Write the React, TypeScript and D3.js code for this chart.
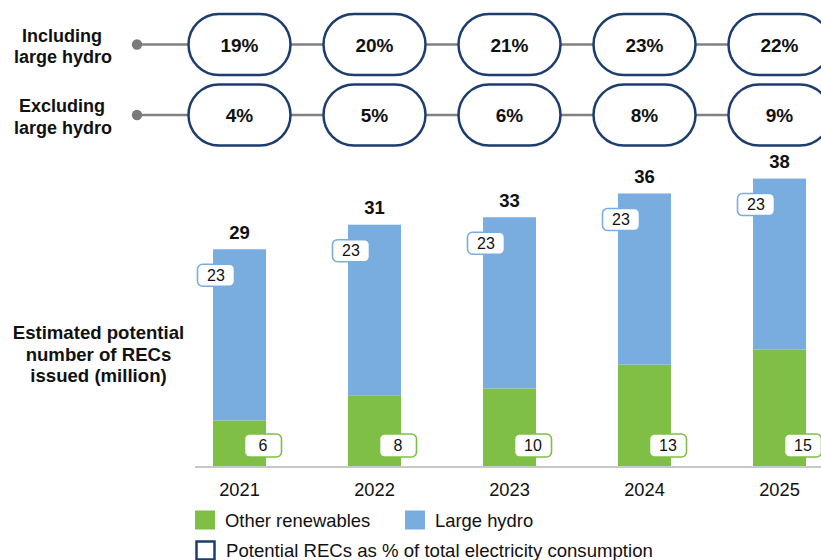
import React from "react";
import * as d3 from "d3";

const years = ["2021", "2022", "2023", "2024", "2025"];
// bar segment heights (million RECs)
const otherRenewables = [6.2, 9.5, 10.5, 13.7, 15.7];
const largeHydro = [23, 23, 23, 23, 23];
// printed labels
const otherLabels = ["6", "8", "10", "13", "15"];
const hydroLabels = ["23", "23", "23", "23", "23"];
const totalLabels = ["29", "31", "33", "36", "38"];
const inclLargeHydro = ["19%", "20%", "21%", "23%", "22%"];
const exclLargeHydro = ["4%", "5%", "6%", "8%", "9%"];
const rowLabels = [
  ["Including", "large hydro"],
  ["Excluding", "large hydro"],
];
const yTitle = ["Estimated potential", "number of RECs", "issued (million)"];

const GREEN = "#80bf46";
const BLUE = "#79addf";
const NAVY = "#1c3d6e";
const FONT = "'Liberation Sans', Arial, Helvetica, sans-serif";

export default function App() {
  const W = 821;
  const H = 560;
  const x = d3.scalePoint<string>().domain(years).range([239.5, 779.5]);
  const barW = 53;
  const baseY = 466.5;
  const y = d3.scaleLinear().domain([0, 40]).range([baseY, baseY - 297.6]);

  const rows = [
    { cy: 44.5, vals: inclLargeHydro, label: rowLabels[0] },
    { cy: 115, vals: exclLargeHydro, label: rowLabels[1] },
  ];
  const pillW = 102;
  const pillH = 61;

  return (
    <svg
      width={W}
      height={H}
      style={{ position: "absolute", left: 0, top: 0, background: "#fff" }}
      fontFamily={FONT}
    >
      <rect x={0} y={0} width={W} height={H} fill="#fff" />
      {/* top rows */}
      {rows.map((r, ri) => (
        <g key={ri}>
          <text
            x={62}
            y={r.cy - 3}
            textAnchor="middle"
            fontSize={18}
            fontWeight="bold"
            fill="#111"
          >
            {r.label[0]}
          </text>
          <text
            x={63}
            y={r.cy + 18.5}
            textAnchor="middle"
            fontSize={18}
            fontWeight="bold"
            fill="#111"
          >
            {r.label[1]}
          </text>
          <line x1={137} x2={W} y1={r.cy} y2={r.cy} stroke="#808080" strokeWidth={2.6} />
          <circle cx={137} cy={r.cy} r={5.2} fill="#7a7a7a" />
          {r.vals.map((v, i) => (
            <g key={i}>
              <rect
                x={(x(years[i]) as number) - pillW / 2}
                y={r.cy - pillH / 2}
                width={pillW}
                height={pillH}
                rx={pillH / 2}
                ry={pillH / 2}
                fill="#fff"
                stroke={NAVY}
                strokeWidth={2.5}
              />
              <text
                x={x(years[i]) as number}
                y={r.cy + 7}
                textAnchor="middle"
                fontSize={19}
                fontWeight="bold"
                fill="#111"
              >
                {v}
              </text>
            </g>
          ))}
        </g>
      ))}

      {/* y title */}
      {yTitle.map((t, i) => (
        <text
          key={i}
          x={98.5}
          y={339 + i * 21.5}
          textAnchor="middle"
          fontSize={18.6}
          fontWeight="bold"
          fill="#111"
        >
          {t}
        </text>
      ))}

      {/* bars */}
      {years.map((yr, i) => {
        const cx = x(yr) as number;
        const g0 = y(0);
        const g1 = y(otherRenewables[i]);
        const b1 = y(otherRenewables[i] + largeHydro[i]);
        return (
          <g key={yr}>
            <rect x={cx - barW / 2} y={g1} width={barW} height={g0 - g1} fill={GREEN} />
            <rect x={cx - barW / 2} y={b1} width={barW} height={g1 - b1} fill={BLUE} />
            <text
              x={cx}
              y={b1 - 10.5}
              textAnchor="middle"
              fontSize={18.5}
              fontWeight="bold"
              fill="#111"
            >
              {totalLabels[i]}
            </text>
          </g>
        );
      })}

      {/* axis */}
      <line x1={195} x2={W} y1={baseY + 0.5} y2={baseY + 0.5} stroke="#c8c8c8" strokeWidth={2} />
      {years.map((yr) => (
        <text
          key={yr}
          x={x(yr) as number}
          y={496}
          textAnchor="middle"
          fontSize={18.3}
          fill="#111"
        >
          {yr}
        </text>
      ))}

      {/* value boxes */}
      {years.map((yr, i) => {
        const cx = x(yr) as number;
        const b1 = y(otherRenewables[i] + largeHydro[i]);
        const hx = cx - barW / 2 + 3;
        const hy = b1 + 26;
        const gx = cx + barW / 2 - 3;
        const gy = 445.5;
        return (
          <g key={yr}>
            <rect
              x={hx - 18.5}
              y={hy - 11}
              width={37}
              height={22}
              rx={5}
              fill="#fff"
              stroke={BLUE}
              strokeWidth={1.6}
            />
            <text x={hx} y={hy + 5.6} textAnchor="middle" fontSize={16} fill="#111">
              {hydroLabels[i]}
            </text>
            <rect
              x={gx - 18.5}
              y={gy - 11.5}
              width={37}
              height={23}
              rx={5}
              fill="#fff"
              stroke={GREEN}
              strokeWidth={1.6}
            />
            <text x={gx} y={gy + 5.6} textAnchor="middle" fontSize={16} fill="#111">
              {otherLabels[i]}
            </text>
          </g>
        );
      })}

      {/* legend */}
      <rect x={195} y={510.5} width={20} height={19} fill={GREEN} />
      <text x={225} y={526.5} fontSize={18.4} fill="#111">
        Other renewables
      </text>
      <rect x={405} y={510.5} width={20} height={19} fill={BLUE} />
      <text x={435} y={526.5} fontSize={18.4} fill="#111">
        Large hydro
      </text>
      <rect x={196.5} y={541.5} width={18} height={18} fill="#fff" stroke={NAVY} strokeWidth={2.5} />
      <text x={226} y={557} fontSize={18.6} fill="#111">
        Potential RECs as % of total electricity consumption
      </text>
    </svg>
  );
}
